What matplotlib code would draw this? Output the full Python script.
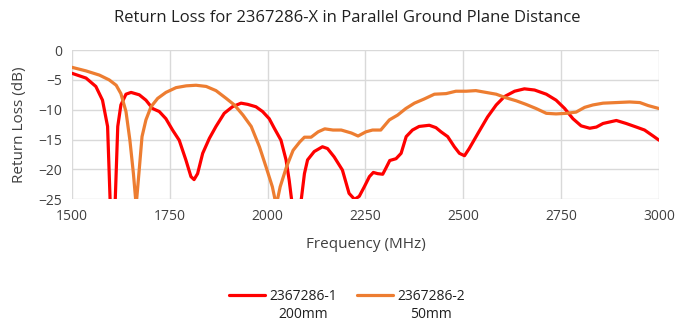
import matplotlib
matplotlib.use("Agg")
import matplotlib.pyplot as plt

plt.rcParams['font.family'] = ['Open Sans', 'DejaVu Sans']

red_freq = [1500, 1536, 1561, 1578, 1591, 1600, 1604, 1608, 1617, 1625, 1638, 1651, 1672, 1689, 1706, 1723,
            1740, 1757, 1774, 1791, 1804, 1812, 1821, 1834, 1851, 1868, 1889, 1910, 1932, 1949, 1970, 1987,
            2004, 2017, 2034, 2047, 2055, 2062, 2073, 2085, 2094, 2102, 2119, 2140, 2153, 2170, 2191, 2208,
            2222, 2234, 2247, 2260, 2270, 2281, 2294, 2302, 2312, 2328, 2341, 2354, 2370, 2387, 2413, 2430,
            2443, 2460, 2477, 2490, 2503, 2515, 2537, 2562, 2584, 2605, 2631, 2656, 2682, 2712, 2737, 2759,
            2780, 2801, 2823, 2840, 2857, 2891, 2916, 2942, 2963, 2985, 3000]
red_db = [-3.9, -4.7, -6.1, -8.4, -12.8, -30, -32, -30, -12.8, -9.2, -7.4, -7.1, -7.5, -8.4, -9.8, -10.3,
          -11.5, -13.4, -15.1, -18.4, -21.2, -21.7, -20.7, -17.3, -14.8, -12.8, -10.6, -9.5, -8.9, -9.1, -9.5, -10.3,
          -11.5, -13.1, -15.1, -18.4, -21.8, -25.5, -32, -25.5, -20.7, -18.4, -17.0, -16.2, -16.5, -17.9, -20.1, -24.0,
          -25.0, -24.5, -22.9, -21.2, -20.5, -20.7, -20.8, -19.8, -18.5, -18.2, -17.3, -14.5, -13.4, -12.8, -12.6, -13.0,
          -13.7, -14.5, -16.2, -17.3, -17.7, -16.5, -14.0, -11.2, -9.2, -7.8, -6.9, -6.5, -6.7, -7.4, -8.4, -9.8,
          -11.5, -12.7, -13.1, -12.9, -12.3, -11.8, -12.3, -12.9, -13.4, -14.4, -15.1]

orange_freq = [1500, 1536, 1570, 1595, 1613, 1625, 1638, 1648, 1657, 1664, 1671, 1679, 1689, 1702, 1719, 1740,
               1766, 1792, 1817, 1843, 1868, 1894, 1915, 1937, 1958, 1979, 1996, 2012, 2022, 2032, 2048, 2065,
               2082, 2094, 2111, 2129, 2146, 2167, 2188, 2214, 2231, 2251, 2268, 2289, 2311, 2332, 2353, 2375,
               2400, 2426, 2456, 2481, 2507, 2532, 2558, 2584, 2609, 2635, 2660, 2686, 2712, 2737, 2763, 2788,
               2810, 2831, 2857, 2891, 2925, 2951, 2972, 3000]
orange_db = [-2.9, -3.5, -4.2, -5.0, -5.9, -7.3, -10.3, -15.1, -20.7, -26, -20.7, -14.5, -11.7, -9.5, -8.1, -7.1,
             -6.3, -6.0, -5.9, -6.1, -6.8, -8.1, -9.2, -10.9, -12.8, -16.2, -19.6, -22.9, -26, -22.9, -19.6, -16.8,
             -15.4, -14.6, -14.6, -13.7, -13.2, -13.4, -13.4, -13.9, -14.4, -13.7, -13.4, -13.4, -11.7, -10.9, -9.8, -8.9,
             -8.2, -7.4, -7.3, -6.9, -6.9, -6.8, -7.1, -7.4, -8.0, -8.5, -9.1, -9.8, -10.6, -10.7, -10.6, -10.4,
             -9.6, -9.2, -8.9, -8.8, -8.7, -8.8, -9.3, -9.8]

x_ticks = [1500, 1750, 2000, 2250, 2500, 2750, 3000]
y_ticks = [0, -5, -10, -15, -20, -25]
names = ["2367286-1", "2367286-2"]
distances = ["200mm", "50mm"]

fig = plt.figure(figsize=(6.94, 3.26), dpi=100)
ax = fig.add_axes([0.1037, 0.3886, 0.8459, 0.458])
ax.plot(red_freq, red_db, color='#FF0000', lw=2.3, label=names[0], solid_capstyle='round')
ax.plot(orange_freq, orange_db, color='#ED7D31', lw=2.3, label=names[1], solid_capstyle='round')
ax.set_xlim(1500, 3000)
ax.set_ylim(-25, 0)
ax.set_xticks(x_ticks)
ax.set_yticks(y_ticks)
ax.tick_params(length=0, labelsize=10, colors='#404040', pad=7)
for s in ax.spines.values():
    s.set_visible(False)
ax.grid(True, color='#d9d9d9', lw=1)
ax.set_axisbelow(True)
ax.set_xlabel("Frequency (MHz)", fontsize=11, color='#404040', labelpad=9)
ax.set_ylabel("Return Loss (dB)", fontsize=11, color='#404040', labelpad=8)
fig.text(0.5, 0.945, "Return Loss for 2367286-X in Parallel Ground Plane Distance", ha='center', va='center',
         fontsize=12, color='#202020')
leg = fig.legend(loc='center', bbox_to_anchor=(0.5, 1 - 296 / 326), ncol=2, frameon=False, fontsize=10,
                 handlelength=2.6, handletextpad=0.3, columnspacing=1.4, labelcolor='#202020')
fig.canvas.draw()
r = fig.canvas.get_renderer()
inv = fig.transFigure.inverted()
for t, d in zip(leg.get_texts(), distances):
    bb = t.get_window_extent(r)
    (x0, y0), (x1, y1) = inv.transform([(bb.x0, bb.y0), (bb.x1, bb.y1)])
    fig.text((x0 + x1) / 2, 1 - 315 / 326, d, ha='center', va='center', fontsize=10, color='#202020')
fig.savefig("out.png", dpi=100)
